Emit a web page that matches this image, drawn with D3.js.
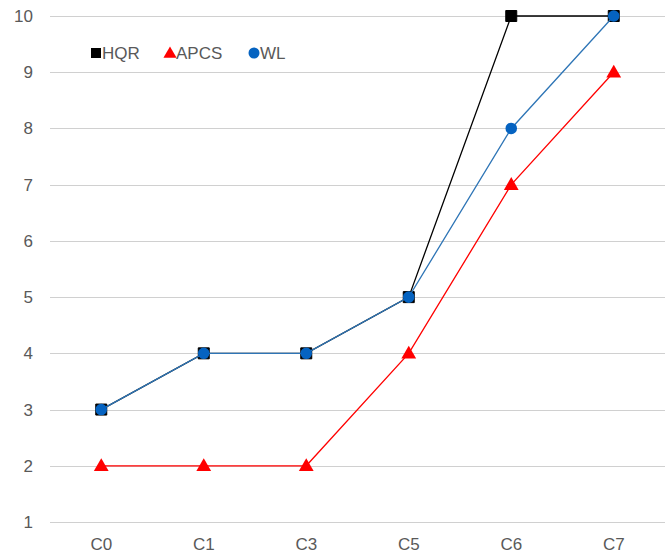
<!DOCTYPE html>
<html>
<head>
<meta charset="utf-8">
<script src="https://cdn.jsdelivr.net/npm/d3@7"></script>
<style>
  html, body { margin: 0; padding: 0; background: #fff; }
  svg { display: block; }
  text { font-family: "Liberation Sans", Arial, sans-serif; fill: #595959; }
</style>
</head>
<body>
<svg id="chart" width="665" height="554"></svg>
<script>
// Categories along the x axis
const categories = ["C0", "C1", "C3", "C5", "C6", "C7"];
// Series values
const hqr  = [3, 4, 4, 5, 10, 10];
const apcs = [2, 2, 2, 4, 7, 9];
const wl   = [3, 4, 4, 5, 8, 10];
// Y axis ticks
const yTicks = [1, 2, 3, 4, 5, 6, 7, 8, 9, 10];

const series = [
  { name: "HQR",  values: hqr,  line: "#000000", fill: "#000000", stroke: "#000000", shape: "square" },
  { name: "APCS", values: apcs, line: "#ff0000", fill: "#ff0000", stroke: "none",    shape: "triangle" },
  { name: "WL",   values: wl,   line: "#2e75b6", fill: "#0563c1", stroke: "none",    shape: "circle" }
];

const svg = d3.select("#chart");
const margin = { left: 50, right: 0, top: 16, bottom: 32 };
const W = 665, H = 554;

const x = d3.scaleBand().domain(categories).range([margin.left, W - margin.right]);
const y = d3.scaleLinear().domain([1, 10]).range([H - margin.bottom, margin.top]);

// Horizontal gridlines
svg.append("g")
  .selectAll("line")
  .data(yTicks)
  .join("line")
  .attr("x1", margin.left)
  .attr("x2", W)
  .attr("y1", d => Math.round(y(d)) + 0.5)
  .attr("y2", d => Math.round(y(d)) + 0.5)
  .attr("stroke", "#d0d0d0")
  .attr("stroke-width", 1);

// Y axis labels
svg.append("g")
  .selectAll("text")
  .data(yTicks)
  .join("text")
  .attr("x", 33)
  .attr("y", d => y(d))
  .attr("dy", "0.35em")
  .attr("text-anchor", "end")
  .style("font-size", "17px")
  .text(d => d);

// X axis labels
svg.append("g")
  .selectAll("text")
  .data(categories)
  .join("text")
  .attr("x", d => x(d) + x.bandwidth() / 2)
  .attr("y", 550)
  .attr("text-anchor", "middle")
  .style("font-size", "17px")
  .text(d => d);

const cx = (i) => x(categories[i]) + x.bandwidth() / 2;
const line = d3.line().x((d, i) => cx(i)).y(d => y(d));

const symbolFor = (shape) => {
  if (shape === "square") return d3.symbol().type(d3.symbolSquare).size(121);
  if (shape === "triangle") return d3.symbol().type(d3.symbolTriangle).size(95);
  return d3.symbol().type(d3.symbolCircle).size(105);
};

// Lines and markers, drawn in series order
series.forEach(s => {
  const g = svg.append("g");
  g.append("path")
    .attr("d", line(s.values))
    .attr("fill", "none")
    .attr("stroke", s.line)
    .attr("stroke-width", 1.3);
  g.selectAll("path.m")
    .data(s.values)
    .join("path")
    .attr("class", "m")
    .attr("transform", (d, i) => `translate(${cx(i)},${y(d) + (s.shape === "triangle" ? 1 : 0)})`)
    .attr("d", symbolFor(s.shape)())
    .attr("fill", s.fill)
    .attr("stroke", s.stroke);
});

// Legend
const legend = [
  { name: "HQR",  x: 90,  shape: "square",   fill: "#000000" },
  { name: "APCS", x: 164, shape: "triangle", fill: "#ff0000" },
  { name: "WL",   x: 248, shape: "circle",   fill: "#0563c1" }
];
const lg = svg.append("g");
legend.forEach(l => {
  const sym = l.shape === "square" ? d3.symbol().type(d3.symbolSquare).size(100)
            : l.shape === "triangle" ? d3.symbol().type(d3.symbolTriangle).size(75)
            : d3.symbol().type(d3.symbolCircle).size(95);
  lg.append("path")
    .attr("transform", `translate(${l.x + 6},${53 + (l.shape === "triangle" ? 1 : 0)})`)
    .attr("d", sym())
    .attr("fill", l.fill);
  lg.append("text")
    .attr("x", l.x + 12)
    .attr("y", 53)
    .attr("dy", "0.35em")
    .style("font-size", "17px")
    .text(l.name);
});
</script>
</body>
</html>
